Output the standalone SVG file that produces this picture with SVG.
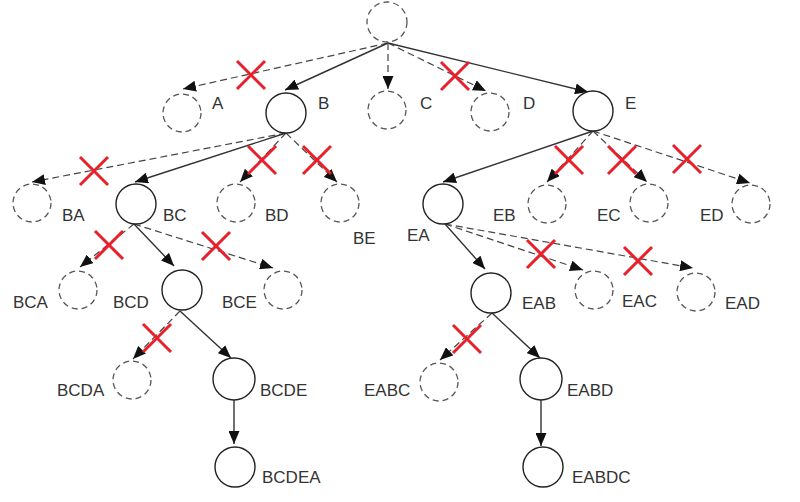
<svg xmlns="http://www.w3.org/2000/svg" width="800" height="502" viewBox="0 0 800 502">
<style>
.s{fill:#fff;stroke:#222;stroke-width:1.4}
.d{fill:#fff;stroke:#555;stroke-width:1.3;stroke-dasharray:6 4}
.es{fill:none;stroke:#333;stroke-width:1.4;marker-end:url(#ah)}
.ed{fill:none;stroke:#444;stroke-width:1.2;stroke-dasharray:7 4;marker-end:url(#ah)}
.x{stroke:#e8202a;stroke-width:3;fill:none}
text{font-family:"Liberation Sans",Arial,sans-serif;font-size:17px;fill:#333}
</style>
<defs>
<marker id="ah" markerUnits="userSpaceOnUse" markerWidth="13" markerHeight="11" refX="13" refY="5.5" orient="auto" viewBox="0 0 13 11">
<path d="M0,0 L13,5.5 L0,11 z" fill="#111" stroke="none"/>
</marker>
<g id="cross"><path class="x" d="M-14,-14 L14,14 M14,-14 L-14,14"/></g>
</defs>
<rect width="800" height="502" fill="#fff"/>
<g id="connectors">
<path class="ed" d="M388,43 L183,89"/>
<path class="es" d="M388,43 L285,90"/>
<path class="ed" d="M388,43 L388,89"/>
<path class="ed" d="M388,43 L486,91"/>
<path class="es" d="M388,43 L588,92"/>
<path class="ed" d="M286,133 L32,182"/>
<path class="es" d="M286,133 L135,182"/>
<path class="ed" d="M286,133 L240,182"/>
<path class="ed" d="M286,133 L337,182"/>
<path class="ed" d="M134,224 L80,267"/>
<path class="es" d="M134,224 L174,266"/>
<path class="ed" d="M134,224 L273,268"/>
<path class="ed" d="M180,311 L133,359"/>
<path class="es" d="M180,311 L231,358"/>
<path class="es" d="M234,400 L234,444"/>
<path class="es" d="M593,131 L443,182"/>
<path class="ed" d="M593,131 L547,182"/>
<path class="ed" d="M593,131 L647,182"/>
<path class="ed" d="M593,131 L750,183"/>
<path class="es" d="M445,224 L485,269"/>
<path class="ed" d="M445,224 L583,270"/>
<path class="ed" d="M445,224 L693,268"/>
<path class="ed" d="M492,313 L440,360"/>
<path class="es" d="M492,313 L540,358"/>
<path class="es" d="M541,400 L541,446"/>
<use href="#cross" x="251" y="75"/>
<use href="#cross" x="455" y="76"/>
<use href="#cross" x="94" y="171"/>
<use href="#cross" x="262" y="160"/>
<use href="#cross" x="317" y="160"/>
<use href="#cross" x="109" y="245"/>
<use href="#cross" x="216" y="246"/>
<use href="#cross" x="157" y="338"/>
<use href="#cross" x="569" y="160"/>
<use href="#cross" x="622" y="160"/>
<use href="#cross" x="687" y="159"/>
<use href="#cross" x="541" y="254"/>
<use href="#cross" x="638" y="261"/>
<use href="#cross" x="467" y="339"/>
</g>
<g id="root"><circle class="d" cx="387" cy="22" r="20"/></g>
<g id="A"><circle class="d" cx="182" cy="113" r="19"/><text x="212" y="109">A</text></g>
<g id="B"><circle class="s" cx="286" cy="113" r="20"/><text x="318" y="109">B</text></g>
<g id="C"><circle class="d" cx="387" cy="110" r="19"/><text x="420" y="109">C</text></g>
<g id="D"><circle class="d" cx="490" cy="112" r="19"/><text x="523" y="109">D</text></g>
<g id="E"><circle class="s" cx="593" cy="111" r="20"/><text x="625" y="109">E</text></g>
<g id="BA"><circle class="d" cx="32" cy="203" r="19"/><text x="62" y="221">BA</text></g>
<g id="BC"><circle class="s" cx="136" cy="204" r="20"/><text x="163" y="221">BC</text></g>
<g id="BD"><circle class="d" cx="236" cy="203" r="19"/><text x="265" y="221">BD</text></g>
<g id="BE"><circle class="d" cx="340" cy="203" r="19"/><text x="353" y="244">BE</text></g>
<g id="BCA"><circle class="d" cx="78" cy="290" r="19"/><text x="13" y="308">BCA</text></g>
<g id="BCD"><circle class="s" cx="182" cy="290" r="20"/><text x="113" y="308">BCD</text></g>
<g id="BCE"><circle class="d" cx="283" cy="290" r="19"/><text x="222" y="308">BCE</text></g>
<g id="BCDA"><circle class="d" cx="132" cy="380" r="19"/><text x="57" y="396">BCDA</text></g>
<g id="BCDE"><circle class="s" cx="234" cy="379" r="21"/><text x="260" y="396">BCDE</text></g>
<g id="BCDEA"><circle class="s" cx="235" cy="467" r="20"/><text x="262" y="483">BCDEA</text></g>
<g id="EA"><circle class="s" cx="443" cy="204" r="20"/><text x="407" y="241">EA</text></g>
<g id="EB"><circle class="d" cx="547" cy="204" r="19"/><text x="493" y="221">EB</text></g>
<g id="EC"><circle class="d" cx="649" cy="203" r="19"/><text x="597" y="221">EC</text></g>
<g id="ED"><circle class="d" cx="751" cy="204" r="19"/><text x="700" y="221">ED</text></g>
<g id="EAB"><circle class="s" cx="491" cy="293" r="20"/><text x="522" y="309">EAB</text></g>
<g id="EAC"><circle class="d" cx="594" cy="290" r="19"/><text x="622" y="307">EAC</text></g>
<g id="EAD"><circle class="d" cx="696" cy="292" r="19"/><text x="725" y="309">EAD</text></g>
<g id="EABC"><circle class="d" cx="439" cy="382" r="19"/><text x="364" y="396">EABC</text></g>
<g id="EABD"><circle class="s" cx="541" cy="379" r="21"/><text x="567" y="396">EABD</text></g>
<g id="EABDC"><circle class="s" cx="543" cy="467" r="20"/><text x="572" y="483">EABDC</text></g>
</svg>
